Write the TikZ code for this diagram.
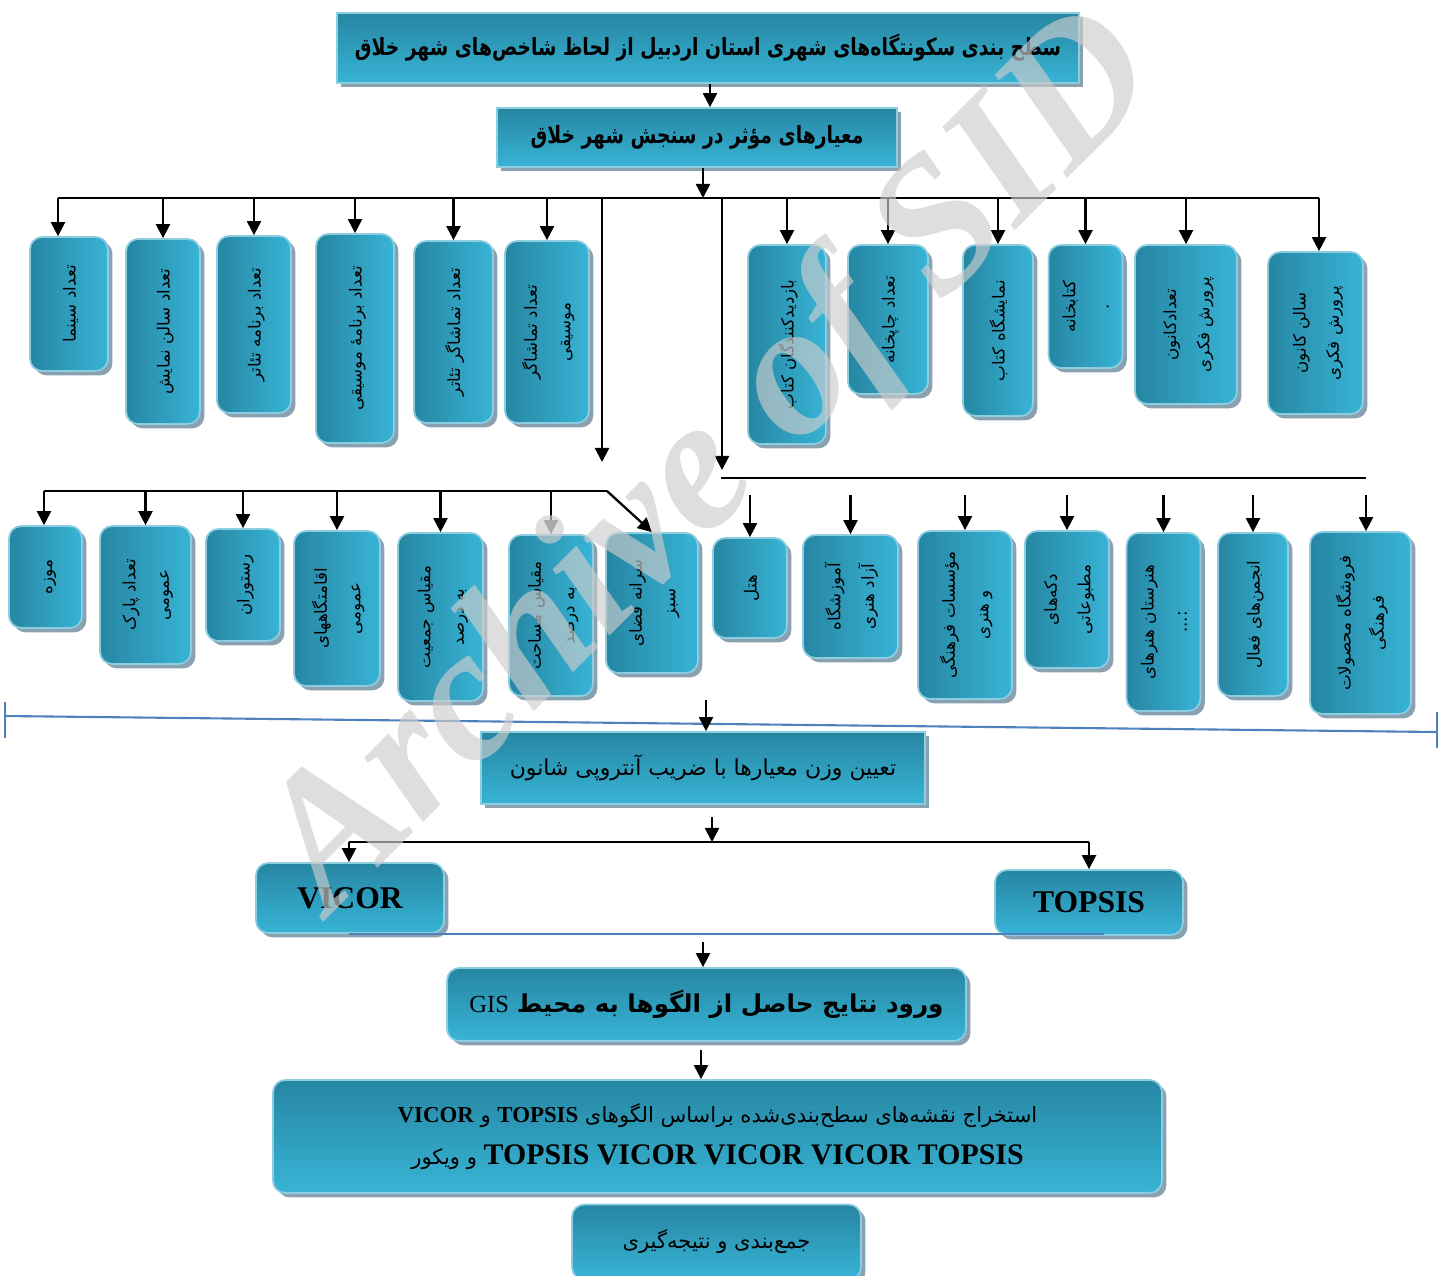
\documentclass[tikz,border=0pt]{standalone}
\usepackage{fontspec}
\usepackage{graphicx}
\setmainfont{Liberation Serif}
\newfontfamily\fafont[Script=Arabic]{DejaVu Sans}
\TeXXeTstate=1
\usetikzlibrary{shadows,arrows.meta}
\definecolor{boxdark}{RGB}{38,134,162}
\definecolor{boxlight}{RGB}{56,180,214}
\definecolor{boxedge}{RGB}{140,205,226}
\definecolor{boxshade}{RGB}{138,162,176}
\definecolor{sepline}{RGB}{79,129,189}
\definecolor{wmark}{RGB}{205,205,205}
\newcommand\fa[1]{{\fafont\beginR #1\endR}}
\newcommand\vtext[1]{\rotatebox{90}{\begin{tabular}{@{}c@{}}#1\end{tabular}}}

\begin{document}
\begin{tikzpicture}[x=0.02cm,y=-0.02cm,
    sz/.style 2 args={minimum width=#1*0.02cm,minimum height=#2*0.02cm},
    box/.style={draw=boxedge,line width=1pt,inner sep=2pt,align=center,
      drop shadow={shadow xshift=2.5pt,shadow yshift=-2.5pt,fill=boxshade,opacity=1}}]
  \useasboundingbox (0,0) rectangle (1440,1275);

  \begin{scope}[every node/.style={box,top color=boxdark,bottom color=boxlight}]
    \node[sz={742}{70},font=\fafont\fontsize{13.5}{16}\selectfont\bfseries] (title) at (708,48)
      {\scalebox{0.79}[1]{\fa{سطح بندی سکونتگاه^^^^200cهای شهری استان اردبیل از لحاظ شاخص^^^^200cهای شهر خلاق}}};
    \node[sz={400}{59},font=\fafont\fontsize{13.5}{16}\selectfont\bfseries] (crit) at (697,137.5)
      {\scalebox{0.79}[1]{\fa{معیارهای مؤثر در سنجش شهر خلاق}}};
    \node[sz={444}{72},font=\fafont\fontsize{12.5}{15}\selectfont] (weight) at (703,768)
      {\fa{تعیین وزن معیارها با ضریب آنتروپی شانون}};
  \end{scope}

  \begin{scope}[every node/.style={box,top color=boxdark,bottom color=boxlight,rounded corners=7pt}]
    \node[sz={188}{70},font=\fontsize{18}{20}\selectfont\bfseries] (vicor) at (350,898) {VICOR};
    \node[sz={188}{65},font=\fontsize{18}{20}\selectfont\bfseries] (topsis) at (1089,902.5) {TOPSIS};
    \node[sz={519}{73},font=\fafont\fontsize{14}{16}\selectfont] (gis) at (706.5,1004.5)
      {\fa{{\bfseries ورود نتایج حاصل از الگوها به محیط} {\rmfamily GIS}}};
    \node[sz={889}{113},font=\fafont\fontsize{12}{24}\selectfont] (maps) at (717.5,1136.5)
      {\fa{استخراج نقشه^^^^200cهای سطح^^^^200cبندی^^^^200cشده براساس الگوهای {\rmfamily\bfseries\fontsize{13}{15}\selectfont TOPSIS} و {\rmfamily\bfseries\fontsize{13}{15}\selectfont VICOR}}\\
       \fa{{\rmfamily\bfseries\fontsize{17}{20}\selectfont\beginL TOPSIS VICOR VICOR VICOR TOPSIS\endL} و ویکور}};
    \node[sz={289}{75},font=\fafont\fontsize{12}{15}\selectfont] (concl) at (716.5,1242)
      {\fa{جمع^^^^200cبندی و نتیجه^^^^200cگیری}};
  \end{scope}

  \begin{scope}[every node/.style={box,left color=boxdark,right color=boxlight,rounded corners=7pt,
      font=\fafont\fontsize{9.5}{19}\selectfont}]
    \node[sz={78}{134}] (a1) at (69,304) {\vtext{\fa{تعداد سینما}}};
    \node[sz={74}{185}] (a2) at (163,331.5) {\vtext{\fa{تعداد سالن نمایش}}};
    \node[sz={74}{177}] (a3) at (254,324.5) {\vtext{\fa{تعداد برنامه تئاتر}}};
    \node[sz={78}{209}] (a4) at (355,338.5) {\vtext{\fa{تعداد برنامهٔ موسیقی}}};
    \node[sz={79}{182}] (a5) at (453.5,332) {\vtext{\fa{تعداد تماشاگر تئاتر}}};
    \node[sz={84}{182}] (a6) at (547,332) {\vtext{\fa{تعداد تماشاگر}\\\fa{موسیقی}}};

    \node[sz={78}{199}] (b1) at (787,344.5) {\vtext{\fa{بازدیدکنندگان کتاب}}};
    \node[sz={80}{149}] (b2) at (888,319.5) {\vtext{\fa{تعداد چاپخانه}}};
    \node[sz={70}{171}] (b3) at (998,330.5) {\vtext{\fa{نمایشگاه کتاب}}};
    \node[sz={71}{123}] (b4) at (1085.5,306.5) {\vtext{\fa{کتابخانه}\\\fa{.}}};
    \node[sz={102}{159}] (b5) at (1186,324.5) {\vtext{\fa{تعدادکانون}\\\fa{پرورش فکری}}};
    \node[sz={95}{162}] (b6) at (1315.5,333) {\vtext{\fa{سالن کانون}\\\fa{پرورش فکری}}};

    \node[sz={73}{102}] (c1) at (45.5,577) {\vtext{\fa{موزه}}};
    \node[sz={91}{138}] (c2) at (145.5,595) {\vtext{\fa{تعداد پارک}\\\fa{عمومی}}};
    \node[sz={74}{112}] (c3) at (243,585) {\vtext{\fa{رستوران}}};
    \node[sz={86}{155}] (c4) at (337,608.5) {\vtext{\fa{اقامتگاههای}\\\fa{عمومی}}};
    \node[sz={85}{168}] (c5) at (440.5,617) {\vtext{\fa{مقیاس جمعیت}\\\fa{به درصد}}};
    \node[sz={84}{161}] (c6) at (551,615.5) {\vtext{\fa{مقیاس مساحت}\\\fa{به درصد}}};
    \node[sz={92}{140}] (c7) at (652,603) {\vtext{\fa{سرانه فضای}\\\fa{سبز}}};

    \node[sz={74}{100}] (d1) at (750,588) {\vtext{\fa{هتل}}};
    \node[sz={95}{123}] (d2) at (850.5,596.5) {\vtext{\fa{آموزشگاه}\\\fa{آزاد هنری}}};
    \node[sz={94}{168}] (d3) at (965,615) {\vtext{\fa{مؤسسات فرهنگی}\\\fa{و هنری}}};
    \node[sz={84}{137}] (d4) at (1067,599.5) {\vtext{\fa{دکه^^^^200cهای}\\\fa{مطبوعاتی}}};
    \node[sz={73}{178}] (d5) at (1163.5,622) {\vtext{\fa{هنرستان هنرهای}\\\fa{:...}}};
    \node[sz={70}{163}] (d6) at (1253,614.5) {\vtext{\fa{انجمن^^^^200cهای فعال}}};
    \node[sz={101}{182}] (d7) at (1360.5,623) {\vtext{\fa{فروشگاه محصولات}\\\fa{فرهنگی}}};
  \end{scope}

  \coordinate (h0) at (58,198);
  \coordinate (h1) at (1319,198);
  \coordinate (q1) at (602,198);
  \coordinate (q2) at (602,462);
  \coordinate (q3) at (722,198);
  \coordinate (q4) at (722,470);
  \coordinate (r0) at (44,491);
  \coordinate (r1) at (607,491);
  \coordinate (rr0) at (721,478);
  \coordinate (rr1) at (1366,478);
  \coordinate (rs) at (0,495);
  \coordinate (bl0) at (5,716);
  \coordinate (bl1) at (1437,732);
  \coordinate (w0) at (706,700);
  \coordinate (w1) at (712,817);
  \coordinate (s0) at (349,842);
  \coordinate (s1) at (1089,842);
  \coordinate (g0) at (703,942);
  \coordinate (g1) at (701,1050);

  \draw[line width=1.3pt] (h0) -- (h1);
  \draw[line width=1.3pt] (r0) -- (r1);
  \draw[line width=1.3pt] (rr0) -- (rr1);
  \draw[line width=1.3pt] (s0) -- (s1);
  \draw[sepline,line width=1.2pt] (bl0) -- (bl1);
  \draw[sepline,line width=1.2pt] (bl0) ++(0,-14) -- ++(0,36);
  \draw[sepline,line width=1.2pt] (bl1) ++(0,-20) -- ++(0,36);
  \draw[sepline,line width=1.2pt] (vicor.south -| s0) -- ([xshift=15*0.02cm]vicor.south -| s1);

  \begin{scope}[every edge/.style={draw=black,line width=1.3pt,-{Triangle[length=8pt,width=8pt]}}]
    \path (title.south -| 710,0) edge (crit.north -| 710,0);
    \path (crit.south -| 703,0) edge (h0 -| 703,0);
    \path (h0) edge (h0 |- a1.north);
    \path (a2.north |- h0) edge (a2.north);
    \path (a3.north |- h0) edge (a3.north);
    \path (a4.north |- h0) edge (a4.north);
    \path (a5.north |- h0) edge (a5.north);
    \path (a6.north |- h0) edge (a6.north);
    \path (q1) edge (q2);
    \path (q3) edge (q4);
    \path (b1.north |- h0) edge (b1.north);
    \path (b2.north |- h0) edge (b2.north);
    \path (b3.north |- h0) edge (b3.north);
    \path (b4.north |- h0) edge (b4.north);
    \path (b5.north |- h0) edge (b5.north);
    \path (h1) edge (h1 |- b6.north);
    \path (r0) edge (r0 |- c1.north);
    \path (c2.north |- r0) edge (c2.north);
    \path (c3.north |- r0) edge (c3.north);
    \path (c4.north |- r0) edge (c4.north);
    \path (c5.north |- r0) edge (c5.north);
    \path (c6.north |- r0) edge[-{Triangle[length=8pt,width=8pt,color=black!60]}] (c6.north);
    \path (r1) edge (c7.north);
    \path (d1.north |- rs) edge (d1.north);
    \path (d2.north |- rs) edge (d2.north);
    \path (d3.north |- rs) edge (d3.north);
    \path (d4.north |- rs) edge (d4.north);
    \path (d5.north |- rs) edge (d5.north);
    \path (d6.north |- rs) edge (d6.north);
    \path (rr1 |- rs) edge (rr1 |- d7.north);
    \path (w0) edge (w0 |- weight.north);
    \path (w1) edge (w1 |- s0);
    \path (s0) edge (s0 |- vicor.north);
    \path (s1) edge (s1 |- topsis.north);
    \path (g0) edge (g0 |- gis.north);
    \path (g1) edge (g1 |- maps.north);
  \end{scope}

  \node[rotate=45,text=wmark,text opacity=0.65,font=\fontsize{108}{108}\selectfont\bfseries\itshape] (wm) at (715,465) {Archive of SID};
\end{tikzpicture}
\end{document}
